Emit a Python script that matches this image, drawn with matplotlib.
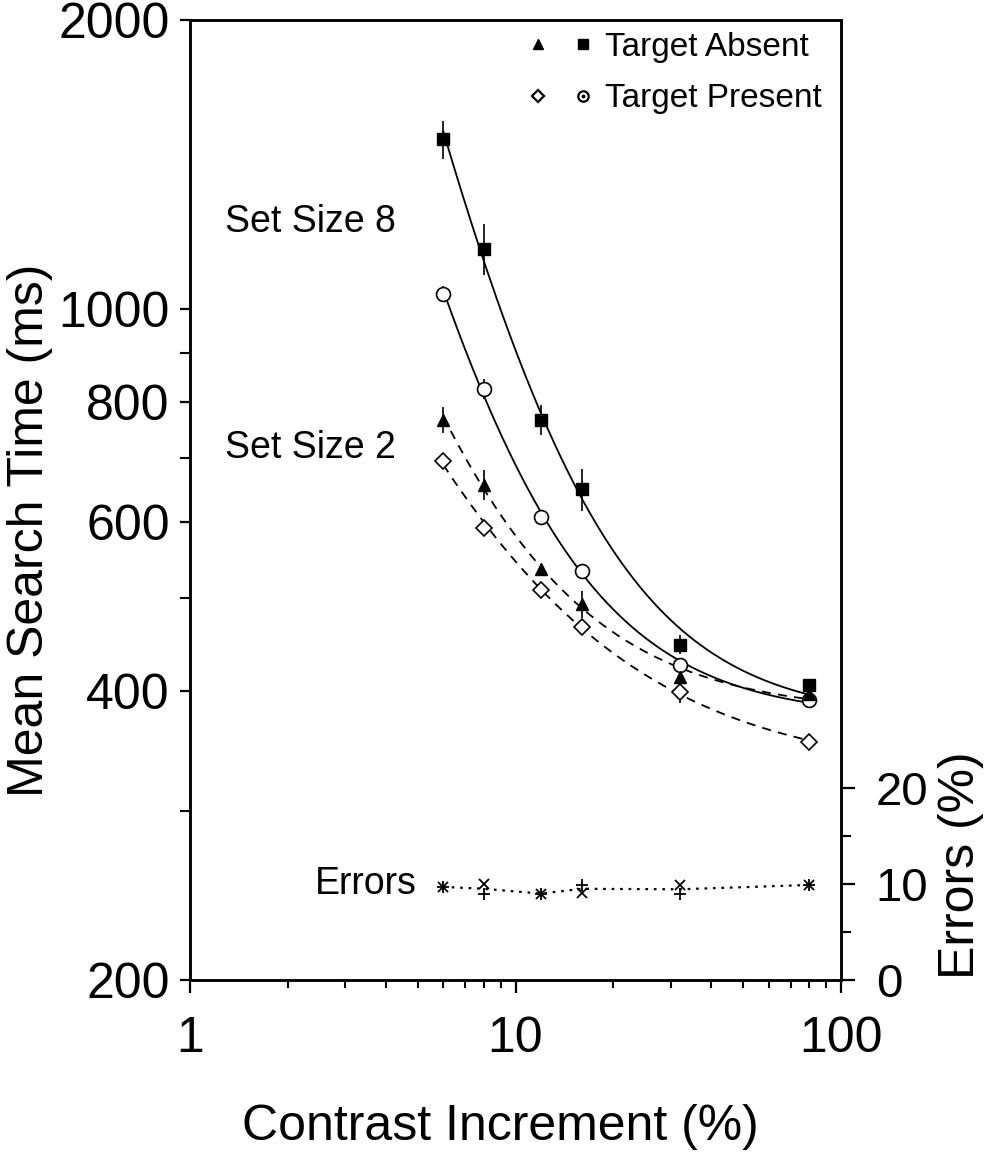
import numpy as np
import matplotlib
matplotlib.use('Agg')
import matplotlib.pyplot as plt
from matplotlib.ticker import FixedLocator, NullFormatter, LogLocator
from matplotlib.lines import Line2D
from matplotlib.legend_handler import HandlerTuple

plt.rcParams['font.family'] = ['Liberation Sans', 'DejaVu Sans']

# ---------------- data ----------------
contrast = [6, 8, 12, 16, 32, 80]
ss8_absent = [1502, 1156, 767, 649, 447, 406]
ss8_absent_err = [68, 70, 28, 33, 10, 6]
ss8_present = [1037, 825, 607, 534, 426, 391]
ss8_present_err = [20, 20, 8, 7, 6, 5]
ss2_absent = [767, 656, 536, 493, 414, 397]
ss2_absent_err = [24, 24, 6, 16, 10, 4]
ss2_present = [694, 592, 510, 466, 399, 354]
ss2_present_err = [10, 8, 6, 7, 10, 4]
errors_x = [9.7, 10.0, 9.0, 9.1, 9.9, 9.9]
errors_plus = [9.7, 9.0, 9.0, 9.9, 9.0, 9.9]

x_ticks = [1, 10, 100]
y_ticks = [200, 400, 600, 800, 1000, 2000]
y_minor = [300, 500, 700, 900]
err_ticks = [0, 10, 20]
err_minor = [5, 15]

# ---------------- figure ----------------
W, H = 984, 1170
fig = plt.figure(figsize=(W / 100, H / 100), dpi=100)
L, R, T, B = 190, 841, 20, 980
ax = fig.add_axes([L / W, 1 - B / H, (R - L) / W, (B - T) / H])
ax.set_xscale('log')
ax.set_yscale('log')
ax.set_xlim(1, 100)
ax.set_ylim(200, 2000)


def fit_curve(x, y):
    """Least-squares fit of y = a + b * x**(-k) (relative error), for the smooth curve."""
    x = np.asarray(x, float)
    y = np.asarray(y, float)
    best = None
    for k in np.linspace(0.3, 4.0, 371):
        A = np.column_stack([np.ones_like(x), x ** -k]) / y[:, None]
        coef, *_ = np.linalg.lstsq(A, np.ones_like(y), rcond=None)
        sse = ((A @ coef - 1) ** 2).sum()
        if best is None or sse < best[0]:
            best = (sse, k, coef)
    _, k, coef = best
    xs = np.logspace(np.log10(x[0]), np.log10(x[-1]), 300)
    return xs, coef[0] + coef[1] * xs ** -k


lw_curve = 1.3
for ys, ls in [(ss8_absent, '-'), (ss8_present, '-'),
               (ss2_absent, (0, (5, 4))), (ss2_present, (0, (5, 4)))]:
    xs, yf = fit_curve(contrast, ys)
    ax.plot(xs, yf, color='black', lw=lw_curve, ls=ls, zorder=2)

ekw = dict(ecolor='black', elinewidth=1.2, capsize=0, ls='none', zorder=3)
ax.errorbar(contrast, ss8_absent, yerr=ss8_absent_err, marker='s', ms=8,
            mfc='black', mec='black', **ekw)
ax.errorbar(contrast, ss8_present, yerr=ss8_present_err, marker='o', ms=10,
            mfc='white', mec='black', mew=1.2, **ekw)
ax.errorbar(contrast, ss2_absent, yerr=ss2_absent_err, marker='^', ms=8,
            mfc='black', mec='black', **ekw)
ax.errorbar(contrast, ss2_present, yerr=ss2_present_err, marker='D', ms=8,
            mfc='white', mec='black', mew=1.2, **ekw)

# ticks left / bottom
ax.set_xticks(x_ticks, labels=[str(v) for v in x_ticks])
ax.xaxis.set_minor_locator(LogLocator(base=10, subs=range(2, 10)))
ax.xaxis.set_minor_formatter(NullFormatter())
ax.set_yticks(y_ticks, labels=[str(v) for v in y_ticks])
ax.yaxis.set_minor_locator(FixedLocator(y_minor))
ax.yaxis.set_minor_formatter(NullFormatter())

ax.tick_params(axis='both', which='both', direction='out', top=False, right=False,
               colors='black')
ax.tick_params(axis='y', which='major', length=7.5, width=1.6, labelsize=36, pad=7)
ax.tick_params(axis='y', which='minor', length=7, width=1.5)
ax.tick_params(axis='x', which='major', length=9, width=1.6, labelsize=36, pad=17)
ax.tick_params(axis='x', which='minor', length=6, width=1.5)
for s in ax.spines.values():
    s.set_linewidth(1.8)

# errors (right axis)
ax2 = ax.twinx()
ax2.set_ylim(0, 100)
err_mean = [(a + b) / 2 for a, b in zip(errors_x, errors_plus)]
ax2.plot(contrast, err_mean, color='black', lw=1.6, ls=(0, (1.2, 2.6)), zorder=2)
ax2.plot(contrast, errors_x, ls='none', marker='x', ms=7.5, mew=1.3, color='black')
ax2.plot(contrast, errors_plus, ls='none', marker='+', ms=8.5, mew=1.3, color='black')
ax2.set_yticks(err_ticks, labels=[str(v) for v in err_ticks])
ax2.yaxis.set_minor_locator(FixedLocator(err_minor))
ax2.yaxis.set_minor_formatter(NullFormatter())
ax2.tick_params(axis='y', which='major', direction='out', length=10, width=1.6,
                labelsize=34, pad=15)
ax2.tick_params(axis='y', which='minor', direction='out', length=7, width=1.5)
for s in ax2.spines.values():
    s.set_linewidth(1.8)

# legend
tri_h = Line2D([], [], ls='none', marker='^', ms=7, color='black')
sq_h = Line2D([], [], ls='none', marker='s', ms=6.5, color='black')
dia_h = Line2D([], [], ls='none', marker='D', ms=6, mfc='white', mec='black', mew=1.6)
circ_h = Line2D([], [], ls='none', marker='o', ms=7.5, mfc='white', mec='black', mew=1.6)
dot_h = Line2D([], [], ls='none', marker='o', ms=1.8, color='black')
absent_h = (tri_h, sq_h)
present_h = (dia_h, (circ_h, dot_h))
leg = ax2.legend([absent_h, present_h], ['Target Absent', 'Target Present'],
                 handler_map={absent_h: HandlerTuple(ndivide=None, pad=0.4),
                              present_h: HandlerTuple(ndivide=None, pad=0.4)},
                 loc='upper right', bbox_to_anchor=(0.971, 0.988),
                 frameon=False, fontsize=24, borderpad=0, borderaxespad=0,
                 handlelength=2.3, handletextpad=0.2, labelspacing=0.62)

# text annotations
fig.text(225 / W, 1 - 232 / H, 'Set Size 8', fontsize=27, va='baseline', ha='left')
fig.text(225 / W, 1 - 458 / H, 'Set Size 2', fontsize=27, va='baseline', ha='left')
fig.text(417 / W, 1 - 884 / H, 'Errors', fontsize=27, va='center', ha='right')

# axis labels
fig.text(30 / W, 1 - 530 / H, 'Mean Search Time (ms)', fontsize=36, rotation=90,
         va='center', ha='center')
fig.text(961 / W, 1 - 865 / H, 'Errors (%)', fontsize=36, rotation=90,
         va='center', ha='center')
fig.text(500 / W, 1 - 1127 / H, 'Contrast Increment (%)', fontsize=36,
         va='center', ha='center')

fig.savefig('out.png', dpi=100, facecolor='white')
